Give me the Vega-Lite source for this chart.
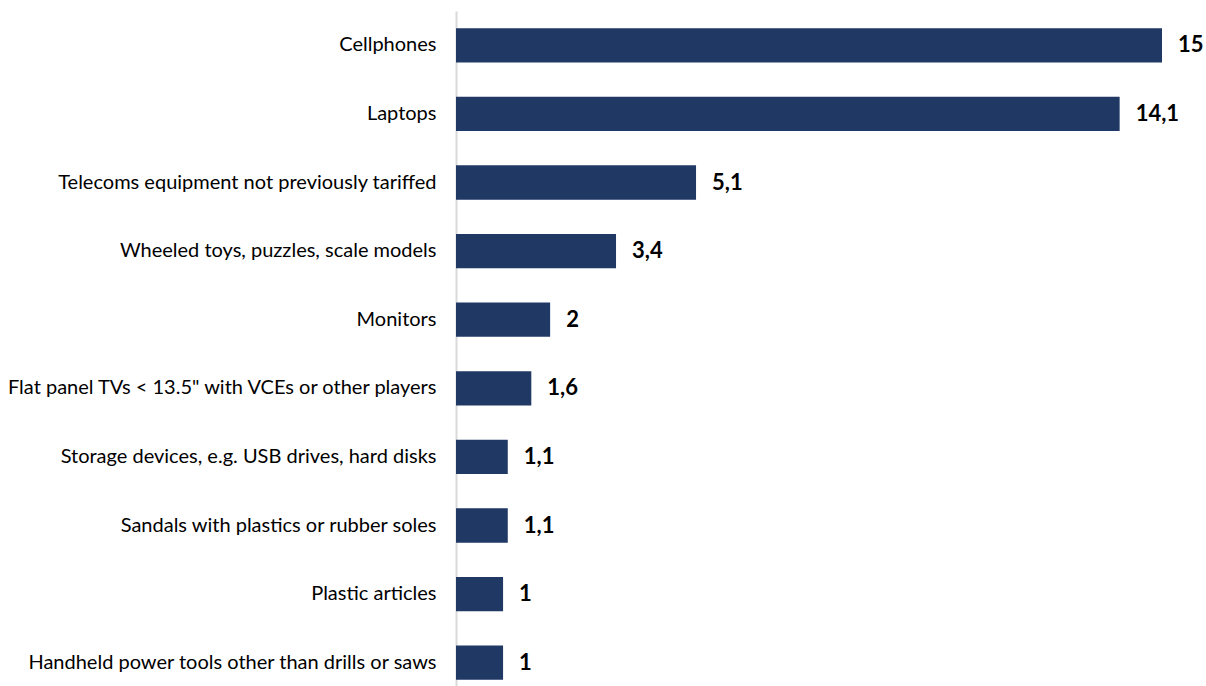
{
  "$schema": "https://vega.github.io/schema/vega-lite/v6.json",
  "autosize": "none",
  "width": 706,
  "height": 686,
  "padding": {"left": 456, "top": 11, "right": 44, "bottom": 0},
  "background": "white",
  "config": {"view": {"stroke": null}},
  "data": {"values": [
    {"item": "Cellphones", "value": 15, "label": "15"},
    {"item": "Laptops", "value": 14.1, "label": "14,1"},
    {"item": "Telecoms equipment not previously tariffed", "value": 5.1, "label": "5,1"},
    {"item": "Wheeled toys, puzzles, scale models", "value": 3.4, "label": "3,4"},
    {"item": "Monitors", "value": 2, "label": "2"},
    {"item": "Flat panel TVs < 13.5\" with VCEs or other players", "value": 1.6, "label": "1,6"},
    {"item": "Storage devices, e.g. USB drives, hard disks", "value": 1.1, "label": "1,1"},
    {"item": "Sandals with plastics or rubber soles", "value": 1.1, "label": "1,1"},
    {"item": "Plastic articles", "value": 1, "label": "1"},
    {"item": "Handheld power tools other than drills or saws", "value": 1, "label": "1"}
  ]},
  "encoding": {
    "y": {"field": "item", "type": "nominal", "sort": null,
      "scale": {"paddingInner": 0.5, "paddingOuter": 0.25},
      "axis": {"title": null, "ticks": false, "domainColor": "#d9d9d9", "domainWidth": 2,
        "labelFont": "Lato", "labelFontSize": 20, "labelColor": "#000000", "labelPadding": 20, "labelLimit": 600}},
    "x": {"field": "value", "type": "quantitative", "scale": {"domain": [0, 15]}, "axis": null}
  },
  "layer": [
    {"mark": {"type": "bar", "color": "#203864"}},
    {"mark": {"type": "text", "align": "left", "dx": 16, "font": "Lato", "fontSize": 22, "fontWeight": "bold", "color": "#000000"},
     "encoding": {"text": {"field": "label"}}}
  ]
}
